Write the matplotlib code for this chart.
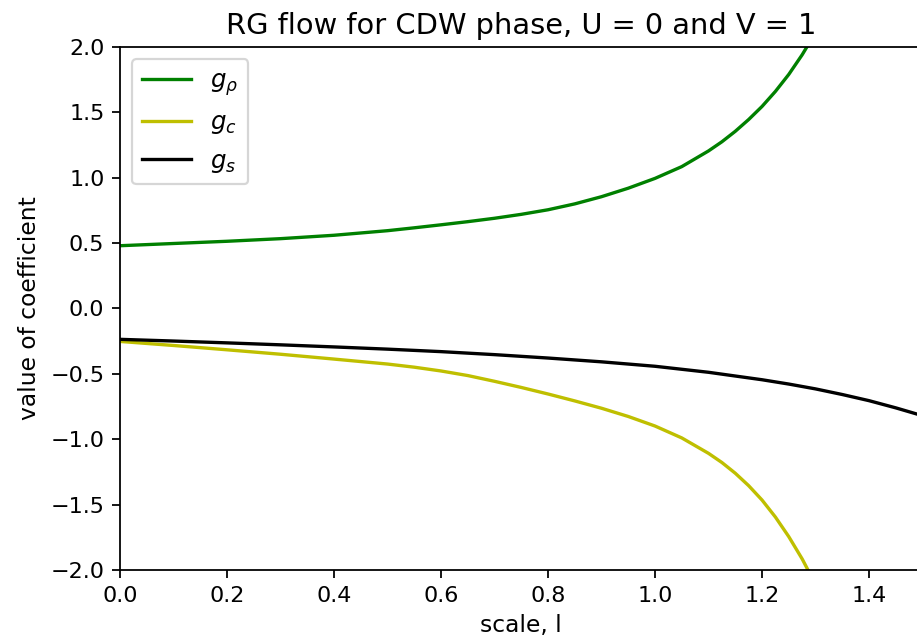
import matplotlib
matplotlib.use("Agg")
import matplotlib.pyplot as plt
import numpy as np

# valores
l_rho = [0.0, 0.1, 0.2, 0.3, 0.4, 0.5, 0.55, 0.6, 0.65, 0.7, 0.75, 0.8, 0.85, 0.9, 0.95,
         1.0, 1.05, 1.1, 1.125, 1.15, 1.175, 1.2, 1.225, 1.25, 1.275, 1.3]
g_rho = [0.48, 0.497, 0.514, 0.534, 0.56, 0.595, 0.617, 0.64, 0.664, 0.69, 0.72, 0.755, 0.80, 0.855, 0.92,
         0.995, 1.085, 1.205, 1.275, 1.355, 1.445, 1.545, 1.66, 1.79, 1.94, 2.11]

l_c = [0.0, 0.1, 0.2, 0.3, 0.4, 0.5, 0.55, 0.6, 0.65, 0.7, 0.75, 0.8, 0.85, 0.9, 0.95,
       1.0, 1.05, 1.1, 1.125, 1.15, 1.175, 1.2, 1.225, 1.25, 1.275, 1.3]
g_c = [-0.252, -0.283, -0.316, -0.350, -0.387, -0.425, -0.449, -0.478, -0.513, -0.557, -0.604, -0.654, -0.707, -0.763, -0.826,
       -0.899, -0.99, -1.108, -1.178, -1.26, -1.355, -1.465, -1.595, -1.745, -1.915, -2.11]

l_s = [0.0, 0.1, 0.2, 0.3, 0.4, 0.5, 0.6, 0.7, 0.8, 0.9, 1.0, 1.1, 1.2, 1.25, 1.3, 1.35, 1.4, 1.45, 1.5]
g_s = [-0.236, -0.249, -0.263, -0.278, -0.294, -0.311, -0.330, -0.353, -0.379, -0.408, -0.442, -0.488, -0.545,
       -0.578, -0.615, -0.658, -0.705, -0.76, -0.82]

fig = plt.figure(figsize=(917 / 160, 641 / 160), dpi=160)
ax = fig.add_axes([0.1309, 0.1108, 0.8751, 0.8159])

ax.plot(l_rho, g_rho, color='g', label=r'$g_\rho$')
ax.plot(l_c, g_c, color='y', label=r'$g_c$')
ax.plot(l_s, g_s, color='k', label=r'$g_s$')

ax.set_xlim(0, 1.5)
ax.set_ylim(-2, 2)
ax.set_xticks(np.arange(0, 1.5, 0.2))
ax.set_yticks(np.arange(-2, 2.01, 0.5))
ax.set_xlabel('scale, l', fontsize=10.5)
ax.set_ylabel('value of coefficient', fontsize=10.5)
ax.set_title('RG flow for CDW phase, U = 0 and V = 1', fontsize=13)
ax.legend(loc='upper left', fontsize=11)

fig.savefig('out.png', dpi=160)
